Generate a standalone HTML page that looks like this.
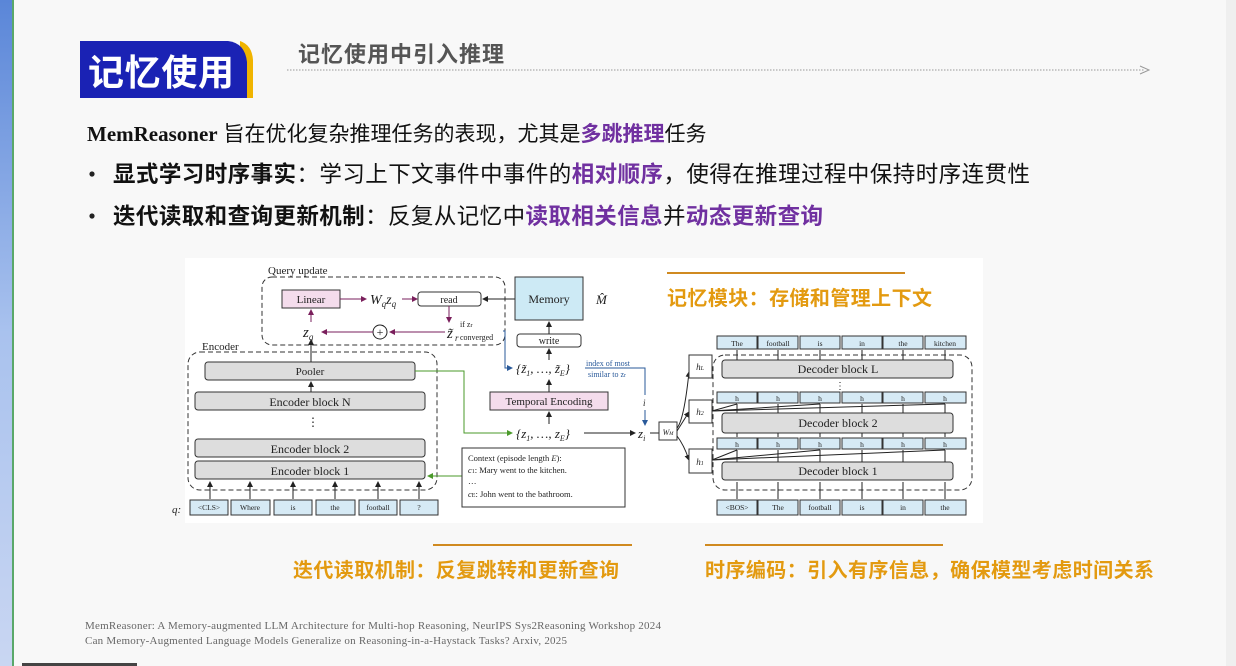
<!DOCTYPE html>
<html><head><meta charset="utf-8"><style>
html,body{margin:0;padding:0;width:1236px;height:666px;overflow:hidden;background:#f8f8f8}
svg{display:block}
.cn{font-family:"Liberation Sans","Noto Sans CJK SC",sans-serif}
.sf{font-family:"Liberation Serif","Noto Serif CJK SC",serif}
</style></head><body>
<svg width="1236" height="666" viewBox="0 0 1236 666" xmlns="http://www.w3.org/2000/svg">
<defs>
<linearGradient id="lg" x1="0" y1="0" x2="0" y2="1"><stop offset="0" stop-color="#5a86d8"/><stop offset="0.5" stop-color="#a9c2ee"/><stop offset="1" stop-color="#c9d6f2"/></linearGradient>
<marker id="ar" markerWidth="6" markerHeight="6" refX="5" refY="3" orient="auto"><path d="M0,0 L6,3 L0,6 z" fill="#222"/></marker>
<marker id="arp" markerWidth="6" markerHeight="6" refX="5" refY="3" orient="auto"><path d="M0,0 L6,3 L0,6 z" fill="#7a1f5c"/></marker>
<marker id="arb" markerWidth="6" markerHeight="6" refX="5" refY="3" orient="auto"><path d="M0,0 L6,3 L0,6 z" fill="#2a5a9a"/></marker>
<marker id="arg" markerWidth="6" markerHeight="6" refX="5" refY="3" orient="auto"><path d="M0,0 L6,3 L0,6 z" fill="#4a9a2a"/></marker>
</defs>
<rect x="0" y="0" width="1236" height="666" fill="#f8f8f8"/>
<rect x="0" y="0" width="12" height="666" fill="url(#lg)"/>
<rect x="12" y="0" width="2" height="666" fill="#5aa86a"/>
<rect x="1226" y="0" width="10" height="666" fill="#efefef"/>
<!-- header -->
<path d="M240,41 Q252,45 253,60 L253,98 L240,98 z" fill="#f0b400"/>
<path d="M80,41 L228,41 Q245,43 247,62 L247,98 L80,98 z" fill="#1a22b4"/>
<text x="88" y="85" class="cn" font-size="36" font-weight="bold" fill="#fff" textLength="146">记忆使用</text>
<text x="298" y="62" class="cn" font-size="22" font-weight="bold" fill="#555" textLength="206">记忆使用中引入推理</text>
<line x1="287" y1="70" x2="1145" y2="70" stroke="#999" stroke-width="1" stroke-dasharray="1.5,1.5"/>
<path d="M1140,66 L1149,70 L1140,74" fill="none" stroke="#999" stroke-width="1"/>
<!-- body -->
<text x="87" y="141" font-size="21" fill="#111"><tspan font-weight="bold" font-family="Liberation Serif,serif">MemReasoner</tspan><tspan font-family="Liberation Sans,Noto Sans CJK SC,sans-serif"> 旨在优化复杂推理任务的表现，尤其是<tspan fill="#7030a0" font-weight="bold">多跳推理</tspan>任务</tspan></text>
<circle cx="92" cy="174" r="2.6" fill="#222"/>
<text x="113" y="182" class="cn" font-size="22.5" fill="#111" textLength="917"><tspan font-weight="bold">显式学习时序事实</tspan>：学习上下文事件中事件的<tspan fill="#7030a0" font-weight="bold">相对顺序</tspan>，使得在推理过程中保持时序连贯性</text>
<circle cx="92" cy="216" r="2.6" fill="#222"/>
<text x="113" y="224" class="cn" font-size="22.5" fill="#111" textLength="710"><tspan font-weight="bold">迭代读取和查询更新机制</tspan>：反复从记忆中<tspan fill="#7030a0" font-weight="bold">读取相关信息</tspan>并<tspan fill="#7030a0" font-weight="bold">动态更新查询</tspan></text>
<!-- diagram bg -->
<rect x="185" y="258" width="798" height="265" fill="#fff"/>
<g font-family="Liberation Serif,serif" fill="#222">
<text x="268" y="274" font-size="11">Query update</text>
<rect x="262" y="277" width="243" height="68" rx="10" fill="none" stroke="#333" stroke-dasharray="5,3"/>
<rect x="282" y="290" width="58" height="18" fill="#f4dcec" stroke="#333"/>
<text x="311" y="303" font-size="11" text-anchor="middle">Linear</text>
<line x1="340" y1="299" x2="366" y2="299" stroke="#7a1f5c" marker-end="url(#arp)"/>
<text x="370" y="304" font-size="14" font-style="italic">W<tspan font-size="9" dy="3">q</tspan><tspan dy="-3">z</tspan><tspan font-size="9" dy="3">q</tspan></text>
<line x1="402" y1="299" x2="417" y2="299" stroke="#7a1f5c" marker-end="url(#arp)"/>
<rect x="418" y="292" width="63" height="14" rx="3" fill="#fff" stroke="#333"/>
<text x="449" y="303" font-size="10" text-anchor="middle">read</text>
<line x1="515" y1="299" x2="483" y2="299" stroke="#222" marker-end="url(#ar)"/>
<line x1="449" y1="306" x2="449" y2="322" stroke="#7a1f5c" marker-end="url(#arp)"/>
<text x="447" y="338" font-size="15" font-style="italic">z̃</text>
<text x="455" y="341" font-size="9" font-style="italic">r</text>
<text x="460" y="327" font-size="8">if z<tspan font-size="6">r</tspan></text>
<text x="460" y="340" font-size="8">converged</text>
<line x1="445" y1="332" x2="390" y2="332" stroke="#7a1f5c" marker-end="url(#arp)"/>
<circle cx="380" cy="332" r="7" fill="#fff" stroke="#222"/>
<text x="380" y="336" font-size="12" text-anchor="middle">+</text>
<line x1="373" y1="332" x2="322" y2="332" stroke="#7a1f5c" marker-end="url(#arp)"/>
<text x="303" y="337" font-size="15" font-style="italic">z<tspan font-size="9" dy="3">q</tspan></text>
<line x1="311" y1="322" x2="311" y2="310" stroke="#7a1f5c" marker-end="url(#arp)"/>
<rect x="515" y="277" width="68" height="43" fill="#cdeaf5" stroke="#333"/>
<text x="549" y="303" font-size="12" text-anchor="middle">Memory</text>
<text x="596" y="304" font-size="13" font-style="italic">M̂</text>
<rect x="517" y="334" width="64" height="13" rx="3" fill="#fff" stroke="#333"/>
<text x="549" y="344" font-size="10" text-anchor="middle">write</text>
<line x1="549" y1="334" x2="549" y2="322" stroke="#222" marker-end="url(#ar)"/>
<path d="M503,331 L505,331 L505,368 L512,368" fill="none" stroke="#2a5a9a" marker-end="url(#arb)"/>
<text x="516" y="373" font-size="13" font-style="italic">{z̃<tspan font-size="8" dy="3">1</tspan><tspan dy="-3">, …, z̃</tspan><tspan font-size="8" dy="3">E</tspan><tspan dy="-3">}</tspan></text>
<line x1="549" y1="360" x2="549" y2="349" stroke="#222" marker-end="url(#ar)"/>
<text x="586" y="366" font-size="8" fill="#2a5a9a">index of most</text>
<text x="588" y="377" font-size="8" fill="#2a5a9a">similar to z<tspan font-size="6">r</tspan></text>
<path d="M585,368 L645,368 L645,395" fill="none" stroke="#2a5a9a"/>
<text x="643" y="406" font-size="9" font-style="italic">i</text>
<line x1="645" y1="410" x2="645" y2="425" stroke="#2a5a9a" marker-end="url(#arb)"/>
<rect x="490" y="392" width="118" height="18" fill="#f4dcec" stroke="#333"/>
<text x="549" y="405" font-size="11" text-anchor="middle">Temporal Encoding</text>
<line x1="549" y1="392" x2="549" y2="380" stroke="#222" marker-end="url(#ar)"/>
<line x1="549" y1="424" x2="549" y2="412" stroke="#222" marker-end="url(#ar)"/>
<text x="516" y="438" font-size="13" font-style="italic">{z<tspan font-size="8" dy="3">1</tspan><tspan dy="-3">, …, z</tspan><tspan font-size="8" dy="3">E</tspan><tspan dy="-3">}</tspan></text>
<line x1="584" y1="433" x2="635" y2="433" stroke="#222" marker-end="url(#ar)"/>
<text x="638" y="438" font-size="13" font-style="italic">z<tspan font-size="8" dy="3">i</tspan></text>
<line x1="650" y1="433" x2="659" y2="433" stroke="#222"/>
<text x="202" y="350" font-size="11">Encoder</text>
<rect x="188" y="352" width="249" height="138" rx="12" fill="none" stroke="#333" stroke-dasharray="5,3"/>
<rect x="205" y="362" width="210" height="18" rx="3" fill="#ddd" stroke="#333"/>
<text x="310" y="375" font-size="11" text-anchor="middle">Pooler</text>
<line x1="311" y1="362" x2="311" y2="340" stroke="#222" marker-end="url(#ar)"/>
<rect x="195" y="392" width="230" height="18" rx="3" fill="#ddd" stroke="#333"/>
<text x="310" y="406" font-size="12" text-anchor="middle">Encoder block N</text>
<line x1="311" y1="392" x2="311" y2="382" stroke="#222" marker-end="url(#ar)"/>
<text x="313" y="426" font-size="12" text-anchor="middle">⋮</text>
<rect x="195" y="439" width="230" height="18" rx="3" fill="#ddd" stroke="#333"/>
<text x="310" y="453" font-size="12" text-anchor="middle">Encoder block 2</text>
<rect x="195" y="461" width="230" height="18" rx="3" fill="#ddd" stroke="#333"/>
<text x="310" y="475" font-size="12" text-anchor="middle">Encoder block 1</text>
<path d="M415,371 L464,371 L464,433 L512,433" fill="none" stroke="#4a9a2a" marker-end="url(#arg)"/>
<line x1="462" y1="476" x2="428" y2="476" stroke="#4a9a2a" marker-end="url(#arg)"/>
<rect x="462" y="448" width="163" height="59" fill="#fff" stroke="#333"/>
<text x="468" y="461" font-size="8.5">Context (episode length <tspan font-style="italic">E</tspan>):</text>
<text x="468" y="473" font-size="8.5"><tspan font-style="italic">c</tspan><tspan font-size="6">1</tspan>: Mary went to the kitchen.</text>
<text x="468" y="484" font-size="8.5">…</text>
<text x="468" y="497" font-size="8.5"><tspan font-style="italic">c</tspan><tspan font-size="6">E</tspan>: John went to the bathroom.</text>
<text x="172" y="513" font-size="11" font-style="italic">q:</text>
<g font-size="7.5" text-anchor="middle">
<rect x="190" y="500" width="38" height="15" fill="#d6eaf5" stroke="#333"/><text x="209" y="510">&lt;CLS&gt;</text>
<rect x="231" y="500" width="39" height="15" fill="#d6eaf5" stroke="#333"/><text x="250" y="510">Where</text>
<rect x="274" y="500" width="38" height="15" fill="#d6eaf5" stroke="#333"/><text x="293" y="510">is</text>
<rect x="316" y="500" width="39" height="15" fill="#d6eaf5" stroke="#333"/><text x="335" y="510">the</text>
<rect x="359" y="500" width="38" height="15" fill="#d6eaf5" stroke="#333"/><text x="378" y="510">football</text>
<rect x="400" y="500" width="38" height="15" fill="#d6eaf5" stroke="#333"/><text x="419" y="510">?</text>
</g>
<g stroke="#222">
<line x1="210" y1="499" x2="210" y2="482" marker-end="url(#ar)"/><line x1="250" y1="499" x2="250" y2="482" marker-end="url(#ar)"/>
<line x1="293" y1="499" x2="293" y2="482" marker-end="url(#ar)"/><line x1="335" y1="499" x2="335" y2="482" marker-end="url(#ar)"/>
<line x1="378" y1="499" x2="378" y2="482" marker-end="url(#ar)"/><line x1="419" y1="499" x2="419" y2="482" marker-end="url(#ar)"/>
</g>
<rect x="659" y="422" width="18" height="18" fill="#fff" stroke="#333"/>
<text x="668" y="435" font-size="8" text-anchor="middle" font-style="italic">W<tspan font-size="5">M</tspan></text>
<g stroke="#222" fill="none">
<path d="M677,428 Q684,420 689,372" marker-end="url(#ar)"/>
<path d="M677,431 L689,412" marker-end="url(#ar)"/>
<path d="M677,436 Q684,445 689,460" marker-end="url(#ar)"/>
</g>
<g font-size="9" font-style="italic" text-anchor="middle">
<rect x="689" y="355" width="23" height="23" fill="#fff" stroke="#333"/><text x="700" y="370">h<tspan font-size="6">L</tspan></text>
<rect x="689" y="400" width="23" height="23" fill="#fff" stroke="#333"/><text x="700" y="415">h<tspan font-size="6">2</tspan></text>
<rect x="689" y="449" width="23" height="24" fill="#fff" stroke="#333"/><text x="700" y="465">h<tspan font-size="6">1</tspan></text>
</g>
<rect x="713" y="355" width="259" height="135" rx="12" fill="none" stroke="#333" stroke-dasharray="5,3"/>
<g font-size="7.5" text-anchor="middle">
<rect x="717" y="336" width="40" height="13" fill="#d6eaf5" stroke="#333"/><text x="737" y="346">The</text>
<rect x="758" y="336" width="40" height="13" fill="#d6eaf5" stroke="#333"/><text x="778" y="346">football</text>
<rect x="800" y="336" width="40" height="13" fill="#d6eaf5" stroke="#333"/><text x="820" y="346">is</text>
<rect x="842" y="336" width="40" height="13" fill="#d6eaf5" stroke="#333"/><text x="862" y="346">in</text>
<rect x="883" y="336" width="40" height="13" fill="#d6eaf5" stroke="#333"/><text x="903" y="346">the</text>
<rect x="925" y="336" width="41" height="13" fill="#d6eaf5" stroke="#333"/><text x="945" y="346">kitchen</text>
<rect x="717" y="392" width="40" height="11" fill="#d6eaf5" stroke="#333"/><text x="737" y="401">h</text>
<rect x="758" y="392" width="40" height="11" fill="#d6eaf5" stroke="#333"/><text x="778" y="401">h</text>
<rect x="800" y="392" width="40" height="11" fill="#d6eaf5" stroke="#333"/><text x="820" y="401">h</text>
<rect x="842" y="392" width="40" height="11" fill="#d6eaf5" stroke="#333"/><text x="862" y="401">h</text>
<rect x="883" y="392" width="40" height="11" fill="#d6eaf5" stroke="#333"/><text x="903" y="401">h</text>
<rect x="925" y="392" width="41" height="11" fill="#d6eaf5" stroke="#333"/><text x="945" y="401">h</text>
<rect x="717" y="438" width="40" height="11" fill="#d6eaf5" stroke="#333"/><text x="737" y="447">h</text>
<rect x="758" y="438" width="40" height="11" fill="#d6eaf5" stroke="#333"/><text x="778" y="447">h</text>
<rect x="800" y="438" width="40" height="11" fill="#d6eaf5" stroke="#333"/><text x="820" y="447">h</text>
<rect x="842" y="438" width="40" height="11" fill="#d6eaf5" stroke="#333"/><text x="862" y="447">h</text>
<rect x="883" y="438" width="40" height="11" fill="#d6eaf5" stroke="#333"/><text x="903" y="447">h</text>
<rect x="925" y="438" width="41" height="11" fill="#d6eaf5" stroke="#333"/><text x="945" y="447">h</text>
<rect x="717" y="500" width="40" height="15" fill="#d6eaf5" stroke="#333"/><text x="737" y="510">&lt;BOS&gt;</text>
<rect x="758" y="500" width="40" height="15" fill="#d6eaf5" stroke="#333"/><text x="778" y="510">The</text>
<rect x="800" y="500" width="40" height="15" fill="#d6eaf5" stroke="#333"/><text x="820" y="510">football</text>
<rect x="842" y="500" width="40" height="15" fill="#d6eaf5" stroke="#333"/><text x="862" y="510">is</text>
<rect x="883" y="500" width="40" height="15" fill="#d6eaf5" stroke="#333"/><text x="903" y="510">in</text>
<rect x="925" y="500" width="41" height="15" fill="#d6eaf5" stroke="#333"/><text x="945" y="510">the</text>
</g>
<rect x="722" y="360" width="231" height="18" rx="3" fill="#ddd" stroke="#333"/>
<text x="838" y="373" font-size="12" text-anchor="middle">Decoder block L</text>
<text x="840" y="389" font-size="10" text-anchor="middle">⋮</text>
<rect x="722" y="413" width="231" height="20" rx="3" fill="#ddd" stroke="#333"/>
<text x="838" y="427" font-size="12" text-anchor="middle">Decoder block 2</text>
<rect x="722" y="462" width="231" height="18" rx="3" fill="#ddd" stroke="#333"/>
<text x="838" y="475" font-size="12" text-anchor="middle">Decoder block 1</text>
<g stroke="#222" stroke-width="1">
<line x1="712" y1="411" x2="945" y2="404"/><line x1="712" y1="411" x2="737" y2="404"/><line x1="712" y1="411" x2="820" y2="404"/>
<line x1="712" y1="460" x2="945" y2="450"/><line x1="712" y1="460" x2="737" y2="450"/><line x1="712" y1="460" x2="820" y2="450"/>
<line x1="737" y1="499" x2="737" y2="482"/><line x1="778" y1="499" x2="778" y2="482"/><line x1="820" y1="499" x2="820" y2="482"/><line x1="862" y1="499" x2="862" y2="482"/><line x1="903" y1="499" x2="903" y2="482"/><line x1="945" y1="499" x2="945" y2="482"/>
<line x1="737" y1="462" x2="737" y2="450"/><line x1="778" y1="462" x2="778" y2="450"/><line x1="820" y1="462" x2="820" y2="450"/><line x1="862" y1="462" x2="862" y2="450"/><line x1="903" y1="462" x2="903" y2="450"/><line x1="945" y1="462" x2="945" y2="450"/>
<line x1="737" y1="437" x2="737" y2="433"/><line x1="778" y1="437" x2="778" y2="433"/><line x1="820" y1="437" x2="820" y2="433"/><line x1="862" y1="437" x2="862" y2="433"/><line x1="903" y1="437" x2="903" y2="433"/><line x1="945" y1="437" x2="945" y2="433"/>
<line x1="737" y1="413" x2="737" y2="404"/><line x1="778" y1="413" x2="778" y2="404"/><line x1="820" y1="413" x2="820" y2="404"/><line x1="862" y1="413" x2="862" y2="404"/><line x1="903" y1="413" x2="903" y2="404"/><line x1="945" y1="413" x2="945" y2="404"/>
<line x1="737" y1="360" x2="737" y2="350"/><line x1="778" y1="360" x2="778" y2="350"/><line x1="820" y1="360" x2="820" y2="350"/><line x1="862" y1="360" x2="862" y2="350"/><line x1="903" y1="360" x2="903" y2="350"/><line x1="945" y1="360" x2="945" y2="350"/>
</g>
</g>
<line x1="667" y1="273" x2="905" y2="273" stroke="#d08a20" stroke-width="2"/>
<text x="667" y="305" class="cn" font-size="20" font-weight="bold" fill="#e39a10" textLength="265">记忆模块：存储和管理上下文</text>
<line x1="433" y1="545" x2="632" y2="545" stroke="#d08a20" stroke-width="2"/>
<text x="293" y="577" class="cn" font-size="20" font-weight="bold" fill="#e39a10" textLength="326">迭代读取机制：反复跳转和更新查询</text>
<line x1="705" y1="545" x2="943" y2="545" stroke="#d08a20" stroke-width="2"/>
<text x="705" y="577" class="cn" font-size="20" font-weight="bold" fill="#e39a10" textLength="449">时序编码：引入有序信息，确保模型考虑时间关系</text>
<text x="85" y="629" class="sf" font-size="11" fill="#666" textLength="576">MemReasoner: A Memory-augmented LLM Architecture for Multi-hop Reasoning, NeurIPS Sys2Reasoning Workshop 2024</text>
<text x="85" y="644" class="sf" font-size="11" fill="#666" textLength="482">Can Memory-Augmented Language Models Generalize on Reasoning-in-a-Haystack Tasks? Arxiv, 2025</text>
<rect x="22" y="663" width="115" height="3" fill="#444"/>
</svg>
</body></html>
